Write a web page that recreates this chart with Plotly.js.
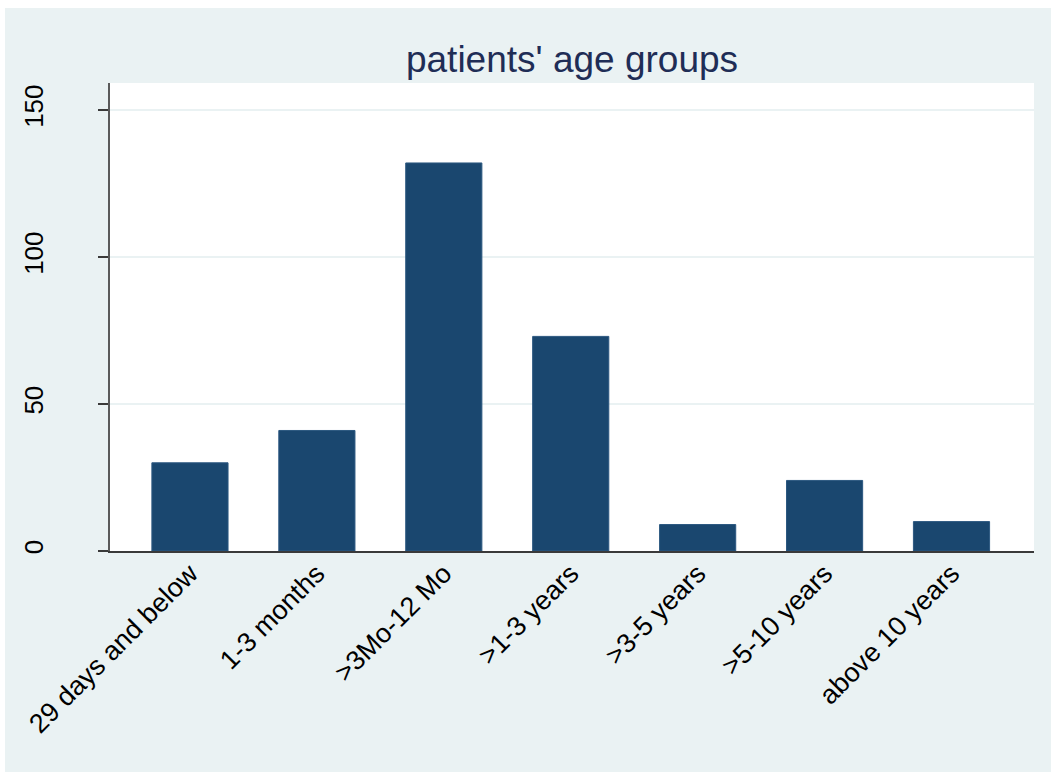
<!DOCTYPE html>
<html>
<head>
<meta charset="utf-8">
<script src="https://cdn.plot.ly/plotly-3.0.1.min.js"></script>
<style>
  html, body { margin: 0; padding: 0; background: #ffffff; width: 1051px; height: 772px; overflow: hidden; }
  #chart { position: absolute; left: 5px; top: 8px; width: 1046px; height: 764px; }
</style>
</head>
<body>
<div id="chart"></div>
<script>
const categories = ["29 days and below", "1-3 months", ">3Mo-12 Mo", ">1-3 years", ">3-5 years", ">5-10 years", "above 10 years"];
const counts = [30, 41, 132, 73, 9, 24, 10];
const yTicks = [0, 50, 100, 150];
const chartTitle = "patients' age groups";

const trace = {
  type: 'bar',
  x: categories,
  y: counts,
  width: 0.6,
  marker: { color: '#1A476F', line: { color: '#2c5880', width: 1 } },
  hoverinfo: 'x+y'
};

const layout = {
  width: 1046,
  height: 764,
  paper_bgcolor: '#EAF2F3',
  plot_bgcolor: '#FFFFFF',
  margin: { l: 105, r: 17, t: 75, b: 221 },
  font: { family: 'Liberation Sans, Arial, sans-serif', color: '#000000' },
  showlegend: false,
  title: {
    text: chartTitle,
    font: { size: 37, color: '#1F2D56', family: 'Liberation Sans, Arial, sans-serif' },
    xref: 'paper', x: 0.5, xanchor: 'center',
    yref: 'container', y: 0.933, yanchor: 'middle'
  },
  xaxis: {
    type: 'category',
    range: [-0.63, 6.65],
    tickangle: -45,
    tickfont: { size: 27, color: '#000000' },
    ticklabelstandoff: -6,
    showgrid: false,
    showline: true, linecolor: '#3a3a3a', linewidth: 2,
    ticks: '',
    zeroline: false,
    fixedrange: true
  },
  yaxis: {
    range: [0, 159.2],
    tickvals: yTicks,
    ticktext: yTicks.map(String),
    tickangle: -90,
    tickfont: { size: 26, color: '#000000' },
    ticks: 'outside', ticklen: 10, tickwidth: 1.5, tickcolor: '#3a3a3a',
    ticklabelstandoff: 45,
    showgrid: true, gridcolor: '#EAF2F3', gridwidth: 2,
    showline: true, linecolor: '#5a5a5a', linewidth: 2,
    zeroline: false,
    fixedrange: true
  },
  bargap: 0.4
};

Plotly.newPlot('chart', [trace], layout, { displayModeBar: false, staticPlot: true });
</script>
</body>
</html>
